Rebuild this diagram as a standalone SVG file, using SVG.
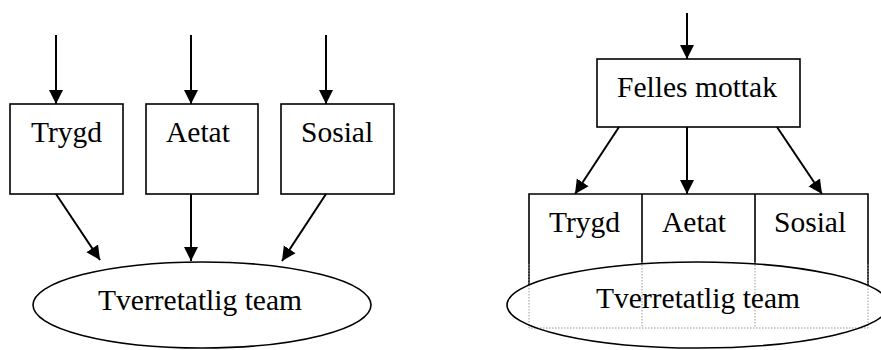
<svg xmlns="http://www.w3.org/2000/svg" width="881" height="350" viewBox="0 0 881 350">
<defs>
<marker id="ah" markerUnits="userSpaceOnUse" markerWidth="15" markerHeight="15" refX="14" refY="7.5" orient="auto">
<path d="M0,0.5 L14,7.5 L0,14.5 z" fill="#000"/>
</marker>
</defs>
<style>
.b{fill:#fff;stroke:#000;stroke-width:1.6}
.t{font-family:"Liberation Serif","Times New Roman",serif;font-size:29.5px;fill:#000}
.c{stroke:#000;stroke-width:2;fill:none;marker-end:url(#ah)}
.s{stroke:#000;stroke-width:1.6;fill:none}
.d{stroke:#999;stroke-width:1;stroke-dasharray:1.5 1.5;fill:none}
</style>
<g id="left-trygd"><rect class="b" x="10" y="104" width="113" height="90"/><text class="t" x="31" y="142">Trygd</text></g>
<g id="left-aetat"><rect class="b" x="146" y="104" width="112" height="90"/><text class="t" x="166" y="142">Aetat</text></g>
<g id="left-sosial"><rect class="b" x="281" y="104" width="113" height="90"/><text class="t" x="301" y="142">Sosial</text></g>
<g id="left-team"><ellipse class="b" cx="202" cy="305" rx="169" ry="43"/><text class="t" x="200" y="310" text-anchor="middle">Tverretatlig team</text></g>
<g id="felles"><rect class="b" x="597" y="59" width="203" height="68"/><text class="t" x="697" y="97" text-anchor="middle">Felles mottak</text></g>
<g id="right-table">
<path class="s" d="M529,285 V194 H868 V285 M642,194 V264 M755,194 V264"/>
<text class="t" x="549" y="232">Trygd</text>
<text class="t" x="662" y="232">Aetat</text>
<text class="t" x="774" y="232">Sosial</text>
</g>
<g id="right-team">
<ellipse cx="698" cy="305" rx="191" ry="43" fill="#fff"/>
<path class="d" d="M529,264 V328 H868 V264 M642,262 V328 M755,262 V328"/>
<ellipse cx="698" cy="305" rx="191" ry="43" fill="none" stroke="#000" stroke-width="1.6"/>
<text class="t" x="698" y="308" text-anchor="middle">Tverretatlig team</text>
</g>
<g id="connectors">
<line class="c" x1="56" y1="35" x2="56" y2="104"/>
<line class="c" x1="191" y1="35" x2="191" y2="104"/>
<line class="c" x1="326" y1="35" x2="326" y2="104"/>
<line class="c" x1="56" y1="194" x2="100" y2="260"/>
<line class="c" x1="191" y1="194" x2="191" y2="261"/>
<line class="c" x1="326" y1="194" x2="282" y2="261"/>
<line class="c" x1="687" y1="13" x2="687" y2="59"/>
<line class="c" x1="619" y1="127" x2="575" y2="194"/>
<line class="c" x1="687" y1="127" x2="687" y2="194"/>
<line class="c" x1="777" y1="127" x2="822" y2="194"/>
</g>
</svg>
